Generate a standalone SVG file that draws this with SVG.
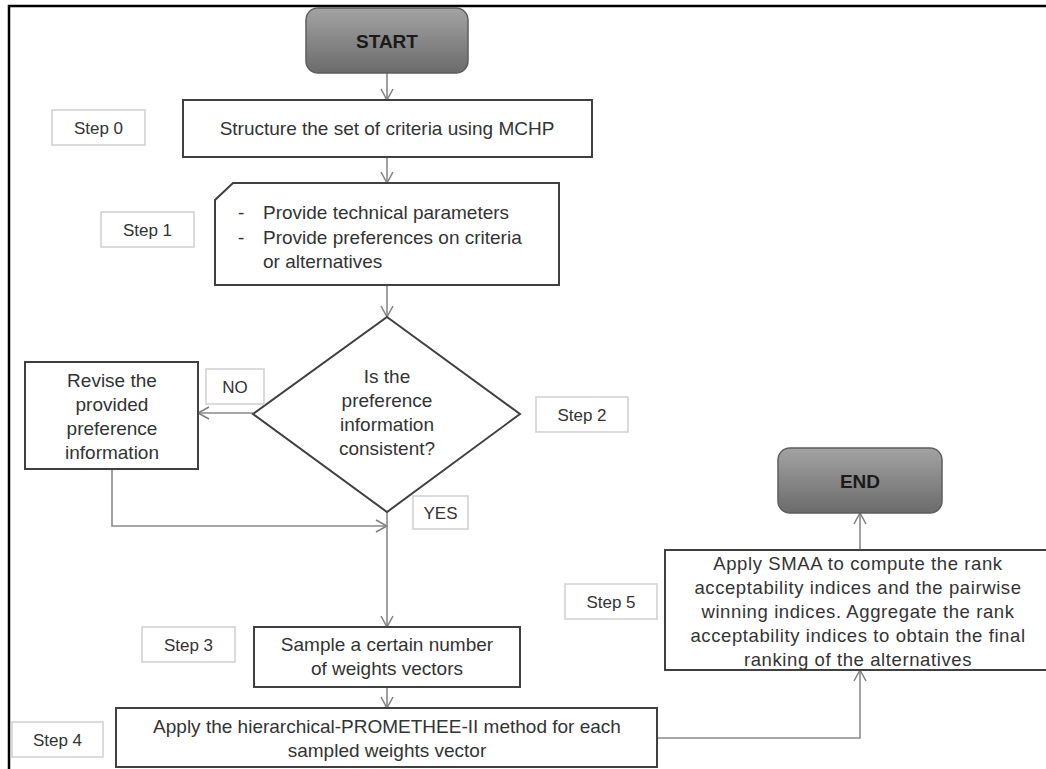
<svg xmlns="http://www.w3.org/2000/svg" width="1046" height="769" viewBox="0 0 1046 769">
<defs>
<linearGradient id="term" x1="0" y1="0" x2="0" y2="1">
<stop offset="0" stop-color="#a3a3a3"/>
<stop offset="1" stop-color="#6b6b6b"/>
</linearGradient>
<marker id="arr" markerUnits="userSpaceOnUse" markerWidth="14" markerHeight="14" viewBox="0 0 14 14" refX="12" refY="7" orient="auto">
<path d="M1,1 L12,7 L1,13" fill="none" stroke="#7f7f7f" stroke-width="1.5"/>
</marker>
<style>
.frame{fill:none;stroke:#000;stroke-width:2.5}
.term{fill:url(#term);stroke:#5e5e5e;stroke-width:1.5}
.box{fill:#fff;stroke:#404040;stroke-width:2}
.lbl{fill:#fff;stroke:#cfcfcf;stroke-width:1.5}
.conn{fill:none;stroke:#8a8a8a;stroke-width:1.6}
text{font-family:"Liberation Sans",Arial,sans-serif;fill:#333;text-anchor:middle}
.t{font-size:19px}
.s{font-size:17px}
.b{font-size:19px;font-weight:bold;fill:#1a1a1a}
.w{font-size:18.5px;letter-spacing:0.6px}
.l{text-anchor:start}
</style>
</defs>
<rect width="1046" height="769" fill="#fff"/>
<path class="frame" d="M9,769 L9,6 L1046,6"/>

<g id="connectors">
<path class="conn" d="M387,73 L387,100" marker-end="url(#arr)"/>
<path class="conn" d="M387,157 L387,183" marker-end="url(#arr)"/>
<path class="conn" d="M387,285 L387,317" marker-end="url(#arr)"/>
<path class="conn" d="M253,413 L198,413" marker-end="url(#arr)"/>
<path class="conn" d="M112,469 L112,526 L387,526" marker-end="url(#arr)"/>
<path class="conn" d="M387,512 L387,627" marker-end="url(#arr)"/>
<path class="conn" d="M387,687 L387,708" marker-end="url(#arr)"/>
<path class="conn" d="M657,738 L860,738 L860,670" marker-end="url(#arr)"/>
<path class="conn" d="M860,550 L860,513" marker-end="url(#arr)"/>
</g>

<g id="start">
<rect class="term" x="306" y="8" width="162" height="65" rx="12"/>
<text class="b" x="387" y="48">START</text>
</g>

<g id="step0-label">
<rect class="lbl" x="52" y="110" width="93" height="35"/>
<text class="s" x="98.5" y="133.5">Step 0</text>
</g>

<g id="step0">
<rect class="box" x="183" y="100" width="409" height="57"/>
<text class="t" x="387" y="135">Structure the set of criteria using MCHP</text>
</g>

<g id="step1-label">
<rect class="lbl" x="101" y="212" width="93" height="35"/>
<text class="s" x="147.5" y="235.5">Step 1</text>
</g>

<g id="step1">
<path class="box" d="M233,183 L559,183 L559,285 L215,285 L215,200 Z"/>
<text class="t l" x="238" y="219">-</text>
<text class="t l" x="263" y="219">Provide technical parameters</text>
<text class="t l" x="238" y="244">-</text>
<text class="t l" x="263" y="244">Provide preferences on criteria</text>
<text class="t l" x="263" y="268">or alternatives</text>
</g>

<g id="step2">
<path class="box" d="M387,317 L520,414 L387,512 L253,414 Z"/>
<text class="t" x="387" y="383">Is the</text>
<text class="t" x="387" y="407">preference</text>
<text class="t" x="387" y="431">information</text>
<text class="t" x="387" y="455">consistent?</text>
</g>

<g id="step2-label">
<rect class="lbl" x="536" y="397" width="92" height="35"/>
<text class="s" x="582" y="420.5">Step 2</text>
</g>

<g id="no-label">
<rect class="lbl" x="206" y="369" width="58" height="35"/>
<text class="s" x="235" y="392.5">NO</text>
</g>

<g id="yes-label">
<rect class="lbl" x="413" y="496" width="55" height="33"/>
<text class="s" x="440.5" y="518.5">YES</text>
</g>

<g id="revise">
<rect class="box" x="25" y="362" width="173" height="107"/>
<text class="t" x="112" y="387">Revise the</text>
<text class="t" x="112" y="411">provided</text>
<text class="t" x="112" y="435">preference</text>
<text class="t" x="112" y="459">information</text>
</g>

<g id="end">
<rect class="term" x="778" y="448" width="164" height="65" rx="12"/>
<text class="b" x="860" y="487.5">END</text>
</g>

<g id="step5">
<rect class="box" x="665" y="550" width="390" height="120"/>
<text class="w" x="858" y="569.5">Apply SMAA to compute the rank</text>
<text class="w" x="858" y="593.5">acceptability indices and the pairwise</text>
<text class="w" x="858" y="617.5">winning indices. Aggregate the rank</text>
<text class="w" x="858" y="641.5">acceptability indices to obtain the final</text>
<text class="w" x="858" y="665.5">ranking of the alternatives</text>
</g>

<g id="step5-label">
<rect class="lbl" x="565" y="584" width="92" height="35"/>
<text class="s" x="611" y="607.5">Step 5</text>
</g>

<g id="step3-label">
<rect class="lbl" x="142" y="627" width="93" height="35"/>
<text class="s" x="188.5" y="650.5">Step 3</text>
</g>

<g id="step3">
<rect class="box" x="254" y="627" width="266" height="60"/>
<text class="t" x="387" y="651">Sample a certain number</text>
<text class="t" x="387" y="675">of weights vectors</text>
</g>

<g id="step4-label">
<rect class="lbl" x="12" y="722" width="91" height="35"/>
<text class="s" x="57.5" y="745.5">Step 4</text>
</g>

<g id="step4">
<rect class="box" x="116" y="708" width="541" height="59"/>
<text class="t" x="387" y="733">Apply the hierarchical-PROMETHEE-II method for each</text>
<text class="t" x="387" y="757">sampled weights vector</text>
</g>
</svg>
